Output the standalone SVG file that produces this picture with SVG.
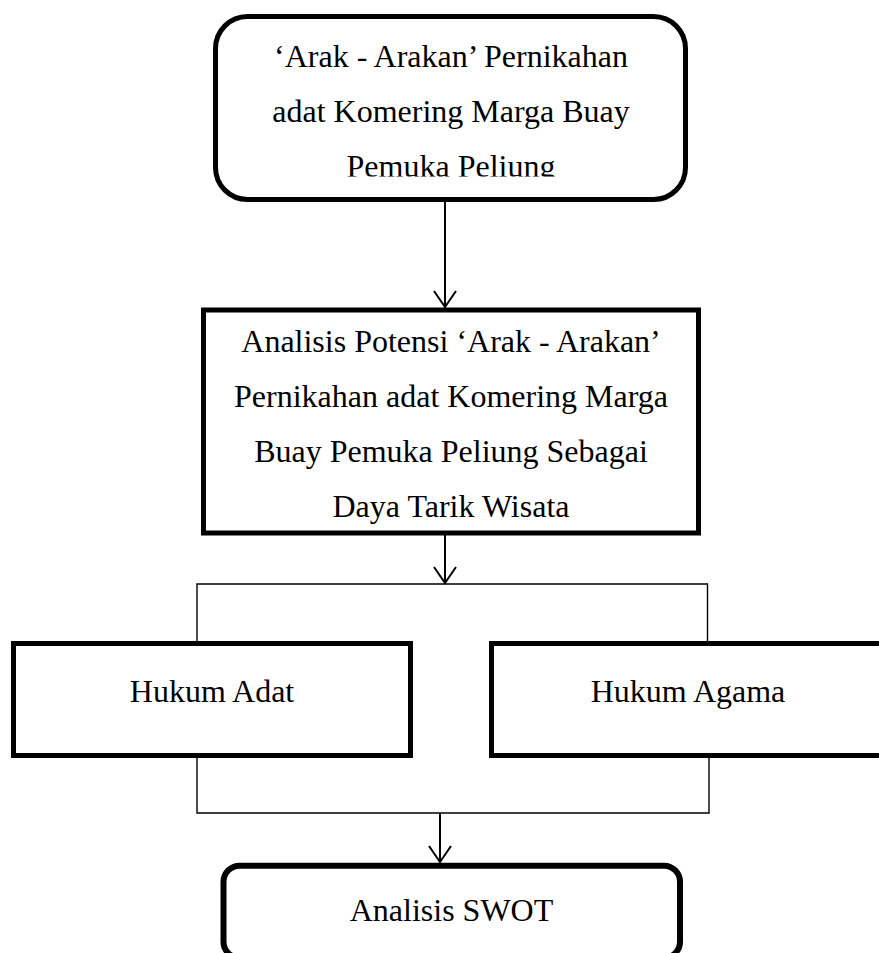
<svg xmlns="http://www.w3.org/2000/svg" width="879" height="953" viewBox="0 0 879 953">
<style>
.box{fill:#fff;stroke:#000;stroke-width:5}
.t{font-family:"Liberation Serif","Times New Roman",serif;font-size:32px;fill:#000;text-anchor:middle}
.arrow{fill:none;stroke:#000;stroke-width:2}
.thin{fill:none;stroke:#000;stroke-width:1.4}
</style>
<defs>
<clipPath id="clipTop"><rect x="200" y="0" width="500" height="176.5"/></clipPath>
</defs>
<rect width="879" height="953" fill="#fff"/>
<g id="connectors">
<line class="arrow" x1="445" y1="202" x2="445" y2="307"/>
<polyline class="arrow" points="434,291 445,307 456,291"/>
<line class="arrow" x1="445" y1="535" x2="445" y2="583"/>
<polyline class="arrow" points="434,567 445,583 456,567"/>
<polyline class="thin" points="197,641 197,584 707.5,584 707.5,641"/>
<polyline class="thin" points="197,758 197,813 709,813 709,758"/>
<line class="arrow" x1="440" y1="813" x2="440" y2="862"/>
<polyline class="arrow" points="429,846 440,862 451,846"/>
</g>
<g id="node-top">
<rect class="box" x="215.5" y="16.5" width="470" height="183" rx="32" ry="32"/>
<g clip-path="url(#clipTop)">
<text class="t" x="451" y="66.7">‘Arak - Arakan’ Pernikahan</text>
<text class="t" x="451" y="121.7">adat Komering Marga Buay</text>
<text class="t" x="451" y="176.7">Pemuka Peliung</text>
</g>
</g>
<g id="node-analisis">
<rect class="box" x="203.5" y="310" width="495" height="223"/>
<text class="t" x="451" y="351.7">Analisis Potensi ‘Arak - Arakan’</text>
<text class="t" x="451" y="406.7">Pernikahan adat Komering Marga</text>
<text class="t" x="451" y="461.7">Buay Pemuka Peliung Sebagai</text>
<text class="t" x="451" y="516.7">Daya Tarik Wisata</text>
</g>
<g id="node-adat">
<rect class="box" x="13.5" y="643.5" width="397" height="112"/>
<text class="t" x="212" y="702">Hukum Adat</text>
</g>
<g id="node-agama">
<rect class="box" x="491.5" y="643.5" width="400" height="112"/>
<text class="t" x="688" y="702">Hukum Agama</text>
</g>
<g id="node-swot">
<rect class="box" style="stroke-width:6" x="223.5" y="865.7" width="456.5" height="92" rx="16" ry="16"/>
<text class="t" x="451.5" y="920.7">Analisis SWOT</text>
</g>
</svg>
